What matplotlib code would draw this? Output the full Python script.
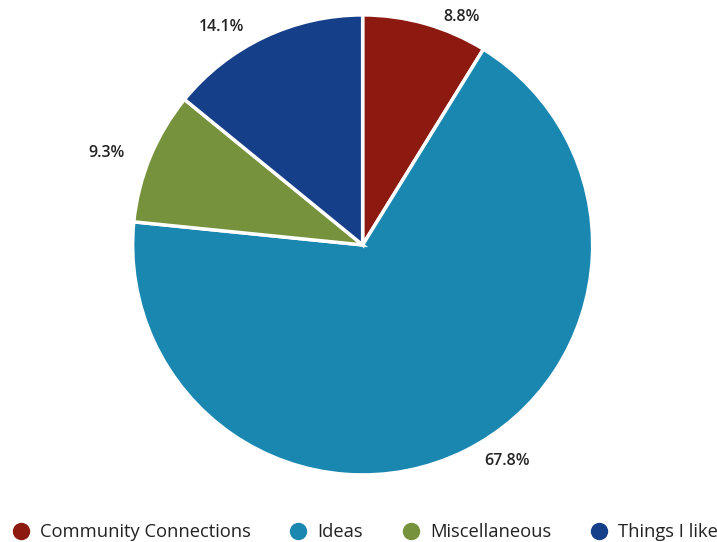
import numpy as np
import matplotlib.pyplot as plt
from matplotlib.lines import Line2D

# slice data, clockwise from 12 o'clock
categories = ['Community Connections', 'Ideas', 'Miscellaneous', 'Things I like']
shares = [8.8, 67.8, 9.3, 14.1]
colors = ['#8c1a10', '#1a87b1', '#76923c', '#163f8a']

plt.rcParams['font.family'] = ['Open Sans', 'DejaVu Sans']

fig = plt.figure(figsize=(7.17, 5.42), dpi=100)
ax = fig.add_axes([0.185, 0.1236, 0.6416, 0.849])

wedges, _ = ax.pie(
    shares, colors=colors, startangle=90, counterclock=False,
    wedgeprops=dict(edgecolor='white', linewidth=2.5))
ax.set_xlim(-1, 1)
ax.set_ylim(-1, 1)
ax.set_aspect('equal')

# percentage labels outside each slice, kept inside the top of the plot area
for w, v in zip(wedges, shares):
    mid = np.deg2rad((w.theta1 + w.theta2) / 2)
    x, y = 1.05 * np.cos(mid), 1.05 * np.sin(mid)
    y = min(y, 0.99)
    side = 1 if x > 0 else -1
    ax.text(x + side * 0.065, y, f'{v}%', ha='left' if side > 0 else 'right',
            va='center', fontsize=11.5, fontweight='semibold', color='#222222')

handles = [Line2D([], [], marker='o', linestyle='', markersize=11.5,
                  markerfacecolor=c, markeredgecolor=c) for c in colors]
fig.legend(handles, categories, loc='center left', ncol=4, frameon=False,
           bbox_to_anchor=(0.016, 0.018), fontsize=13.2, handlelength=1.0,
           handletextpad=0.55, columnspacing=2.1, borderpad=0,
           borderaxespad=0, labelcolor='#222222')

fig.savefig('out.png', dpi=100)
